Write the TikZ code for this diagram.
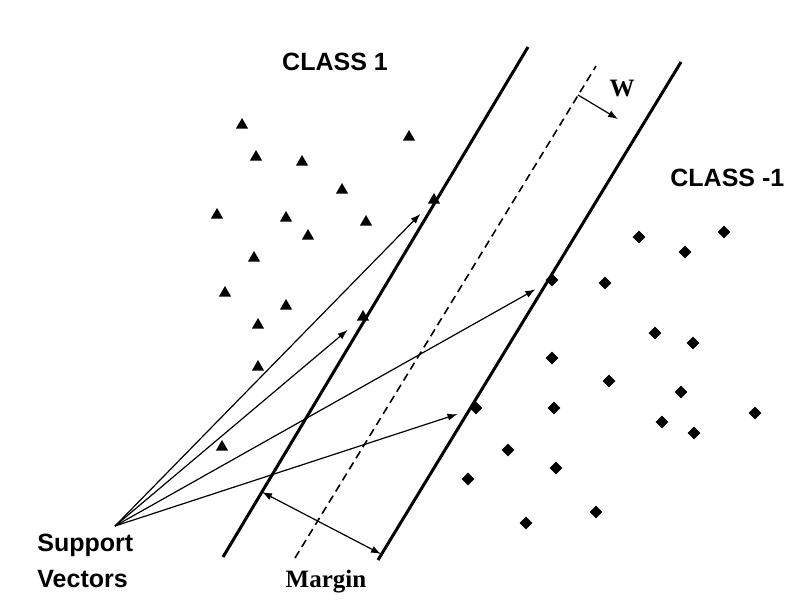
\documentclass[tikz,border=0pt]{standalone}
\usepackage{fontspec}
\setmainfont{Liberation Serif}
\setsansfont{Liberation Sans}
\usetikzlibrary{arrows.meta,shapes.geometric}

\begin{document}
\begin{tikzpicture}[
  >={Latex[length=5pt,width=3.6pt]},
  x=0.5pt, y=-0.5pt,        % one unit = one pixel of the 795x612 sheet
  plane/.style={line width=1.5pt},
  midplane/.style={line width=0.8pt,dash pattern=on 4pt off 2.5pt},
  posclass/.style={regular polygon,regular polygon sides=3,fill=black,inner sep=0pt,minimum size=7pt},
  negclass/.style={diamond,fill=black,inner sep=0pt,minimum size=6.5pt},
  svarrow/.style={->,line width=0.6pt,shorten >=7pt},
  lab/.style={font=\sffamily\bfseries\fontsize{12.5}{18}\selectfont,inner sep=0pt},
  serlab/.style={font=\rmfamily\bfseries\fontsize{12.5}{15}\selectfont,inner sep=0pt}
]
\useasboundingbox (0,0) rectangle (795,612);

% --- hyperplanes
\coordinate (L1) at (223,557); \coordinate (L2) at (528,47);
\coordinate (D1) at (295,558); \coordinate (D2) at (596,66);
\coordinate (R1) at (378,560); \coordinate (R2) at (681,62);
\draw[plane] (L1) -- (L2);
\draw[midplane] (D1) -- (D2);
\draw[plane] (R1) -- (R2);

% --- class 1 (triangles)
\foreach \p [count=\i] in {(242,125),(256,157),(302,162),(409,137),(342,190),
  (217,215),(286,218),(366,222),(308,236),(254,258),(225,293),(286,306),
  (258,325),(258,367),(222,447)}
  \node[posclass] (tri\i) at \p {};
\node[posclass] (sva) at (434,200) {};
\node[posclass] (svb) at (363,317) {};

% --- class -1 (diamonds)
\foreach \p [count=\i] in {(639,237),(724,232),(685,252),(605,283),(655,333),
  (693,343),(552,358),(609,381),(681,392),(755,413),(662,422),(694,433),
  (554,408),(508,450),(556,468),(468,479),(596,512),(526,523)}
  \node[negclass] (dia\i) at \p {};
\node[negclass] (svc) at (552,280) {};
\node[negclass] (svd) at (476,408) {};

% --- support vector arrows
\coordinate (fan) at (115,526);
\foreach \s in {sva,svb,svc,svd}
  \draw[svarrow] (fan) -- (\s);

% --- w and margin
\coordinate (w0) at (578,95);  \coordinate (w1) at (618,119);
\draw[->,line width=0.6pt] (w0) -- (w1);
\coordinate (m1) at (262,492); \coordinate (m2) at (381,554);
\draw[<->,line width=0.6pt] (m1) -- (m2);

% --- labels
\node[lab] (c1) at (335,62) {CLASS 1};
\node[lab,anchor=west] (c2) at (670,178) {CLASS -1};
\node[lab,anchor=west,align=left] (svtext) at (37,561) {Support\\Vectors};
\node[serlab] (mtext) at (326,582) {Margin};
\node[serlab] (wtext) at (622,88) {W};

\end{tikzpicture}
\end{document}
